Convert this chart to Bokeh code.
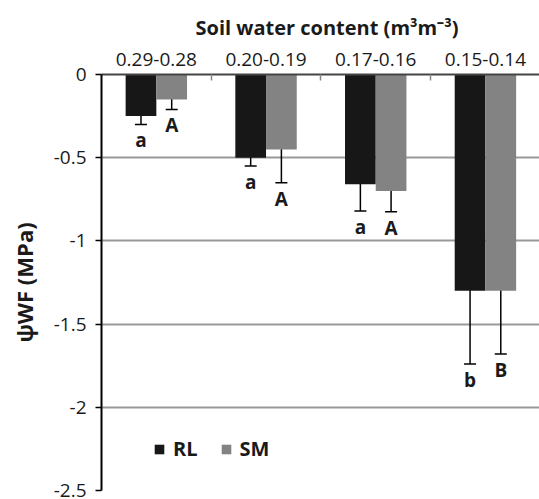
from bokeh.plotting import figure
from bokeh.models import (ColumnDataSource, Range1d, FixedTicker, Whisker, TeeHead,
                          Legend, LegendItem, CustomJSTickFormatter)
from bokeh.core.properties import value
from bokeh.embed import file_html
from bokeh.resources import INLINE

# Soil water content classes (m3 m-3)
categories = ["0.29-0.28", "0.20-0.19", "0.17-0.16", "0.15-0.14"]

# Fruit water potential (MPa), mean and error, per genotype
rl_mean = [-0.25, -0.50, -0.66, -1.30]
rl_err = [0.05, 0.05, 0.16, 0.44]
sm_mean = [-0.15, -0.45, -0.70, -1.30]
sm_err = [0.06, 0.20, 0.125, 0.38]

# Significance letters
rl_letters = ["a", "a", "a", "b"]
sm_letters = ["A", "A", "A", "B"]

y_ticks = [0, -0.5, -1, -1.5, -2, -2.5]

RL_COLOR = "#171717"
SM_COLOR = "#838383"
TEXT_COLOR = "#1a1a1a"
FONT = "Open Sans"

idx = list(range(len(categories)))
bar_w = 0.28

src = ColumnDataSource(dict(
    x_rl=[i - bar_w / 2 for i in idx],
    x_sm=[i + bar_w / 2 for i in idx],
    rl=rl_mean,
    sm=sm_mean,
    rl_lo=[m - e for m, e in zip(rl_mean, rl_err)],
    rl_hi=[m + e for m, e in zip(rl_mean, rl_err)],
    sm_lo=[m - e for m, e in zip(sm_mean, sm_err)],
    sm_hi=[m + e for m, e in zip(sm_mean, sm_err)],
    rl_let=rl_letters,
    sm_let=sm_letters,
))

p = figure(width=539, height=499, output_backend="svg", toolbar_location=None,
           title="Soil water content (m\u00b3m\u207b\u00b3)",
           x_range=Range1d(-0.5, 3.493), y_range=Range1d(-2.5, 0),
           x_axis_location="above",
           min_border_left=101, min_border_right=0,
           min_border_top=74, min_border_bottom=9)
p.outline_line_color = None
p.background_fill_color = "white"
p.border_fill_color = "white"

p.title.align = "left"
p.title.offset = 94
p.title.text_font = FONT
p.title.text_font_size = "20px"
p.title.text_font_style = "bold"
p.title.text_color = TEXT_COLOR
p.title.standoff = 18

# Bars
r_rl = p.vbar(x="x_rl", top="rl", bottom=0, width=bar_w, fill_color=RL_COLOR,
              line_color=None, source=src)
r_sm = p.vbar(x="x_sm", top="sm", bottom=0, width=bar_w, fill_color=SM_COLOR,
              line_color=None, source=src)

# Error bars
for xcol, lo, hi in (("x_rl", "rl_lo", "rl_hi"), ("x_sm", "sm_lo", "sm_hi")):
    w = Whisker(base=xcol, lower=lo, upper=hi, dimension="height", source=src,
                line_color="black", line_width=1.5,
                lower_head=TeeHead(size=12, line_color="black", line_width=1.5),
                upper_head=TeeHead(size=12, line_color="black", line_width=1.5))
    p.add_layout(w)

# Letters under the error bars
for xcol, ycol, tcol in (("x_rl", "rl_lo", "rl_let"), ("x_sm", "sm_lo", "sm_let")):
    p.text(x=xcol, y=ycol, text=tcol, source=src, text_align="center",
           text_baseline="alphabetic", y_offset=16,
           text_font=value(FONT), text_font_size="19px", text_font_style="bold",
           text_color=TEXT_COLOR)

# Top (category) axis
xa = p.xaxis[0]
xa.ticker = FixedTicker(ticks=idx, minor_ticks=[i + 0.5 for i in idx])
xa.major_label_overrides = {i: c for i, c in zip(idx, categories)}
xa.major_tick_in = 0
xa.major_tick_out = 0
xa.minor_tick_in = 6
xa.minor_tick_out = 0
xa.minor_tick_line_color = "#888888"
xa.minor_tick_line_width = 1.5
xa.axis_line_color = "#444444"
xa.axis_line_width = 2
xa.major_label_text_font = FONT
xa.major_label_text_font_size = "19px"
xa.major_label_text_color = TEXT_COLOR
xa.major_label_standoff = 9

# Left axis
ya = p.yaxis[0]
ya.ticker = FixedTicker(ticks=y_ticks)
ya.formatter = CustomJSTickFormatter(code="return String(tick);")
ya.major_tick_in = 0
ya.major_tick_out = 6
ya.major_tick_line_width = 1.5
ya.major_tick_line_color = "black"
ya.minor_tick_line_color = None
ya.axis_line_color = "black"
ya.axis_line_width = 2
ya.major_label_text_font = FONT
ya.major_label_text_font_size = "19px"
ya.major_label_text_color = TEXT_COLOR
ya.major_label_standoff = 9
ya.axis_label = "\u03c8WF (MPa)"
ya.axis_label_text_font = FONT
ya.axis_label_text_font_size = "22px"
ya.axis_label_text_font_style = "bold"
ya.axis_label_text_color = TEXT_COLOR
ya.axis_label_standoff = 12

p.xgrid.visible = False
p.ygrid.grid_line_color = "#999999"
p.ygrid.grid_line_width = 2

legend = Legend(items=[LegendItem(label="RL", renderers=[r_rl]),
                       LegendItem(label="SM", renderers=[r_sm])],
                location=(52, 28), orientation="horizontal",
                glyph_width=12, glyph_height=12, label_standoff=8, spacing=22,
                padding=0, margin=0, border_line_color=None,
                background_fill_alpha=0,
                label_text_font=FONT, label_text_font_size="20px",
                label_text_font_style="bold", label_text_color=TEXT_COLOR)
p.add_layout(legend)

open("out.html", "w").write(file_html(p, INLINE))
